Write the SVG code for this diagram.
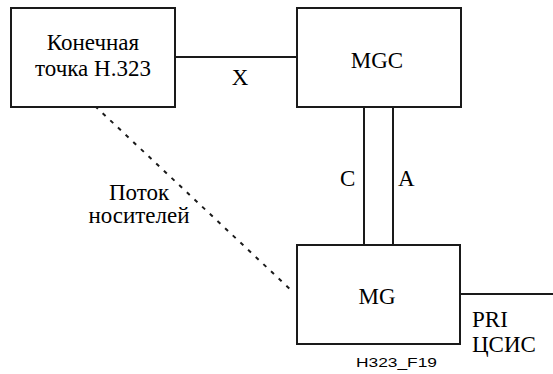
<svg xmlns="http://www.w3.org/2000/svg" width="553" height="374" viewBox="0 0 553 374">
  <style>
    .box { fill: #ffffff; stroke: #1a1a1a; stroke-width: 2; }
    .line { fill: none; stroke: #1a1a1a; stroke-width: 2; }
    .dash { fill: none; stroke: #1a1a1a; stroke-width: 2; stroke-dasharray: 4 6.5; }
    text { font-family: "Liberation Serif", "Times New Roman", Times, serif; font-size: 23px; fill: #000000; }
    .mid { text-anchor: middle; }
    .tag { font-family: "Liberation Sans", Arial, Helvetica, sans-serif; font-size: 13px; }
  </style>
  <rect width="553" height="374" fill="#ffffff"/>

  <!-- connectors and their labels -->
  <g id="connectors">
    <line class="line" x1="175" y1="57" x2="297" y2="57"/>
    <line class="line" x1="364" y1="107" x2="364" y2="245"/>
    <line class="line" x1="393" y1="107" x2="393" y2="245"/>
    <line class="dash" x1="95" y1="106" x2="292" y2="291"/>
    <line class="line" x1="460" y1="294" x2="553" y2="294"/>
    <text class="mid" x="240" y="85">X</text>
    <text x="340" y="186">C</text>
    <text x="398" y="186">A</text>
    <text class="mid" x="139" y="200">Поток</text>
    <text class="mid" x="139" y="223">носителей</text>
    <text x="472" y="327">PRI</text>
    <text x="472" y="352">ЦСИС</text>
  </g>

  <!-- H.323 endpoint -->
  <g id="endpoint">
    <rect class="box" x="11" y="8" width="164" height="99"/>
    <text class="mid" x="93" y="50">Конечная</text>
    <text class="mid" x="93" y="76">точка H.323</text>
  </g>

  <!-- media gateway controller -->
  <g id="mgc">
    <rect class="box" x="297" y="8" width="164" height="99"/>
    <text class="mid" x="377" y="68">MGC</text>
  </g>

  <!-- media gateway -->
  <g id="mg">
    <rect class="box" x="297" y="245" width="163" height="99"/>
    <text class="mid" x="377" y="304">MG</text>
  </g>

  <text class="tag" x="356" y="367" textLength="81" lengthAdjust="spacingAndGlyphs">H323_F19</text>
</svg>
